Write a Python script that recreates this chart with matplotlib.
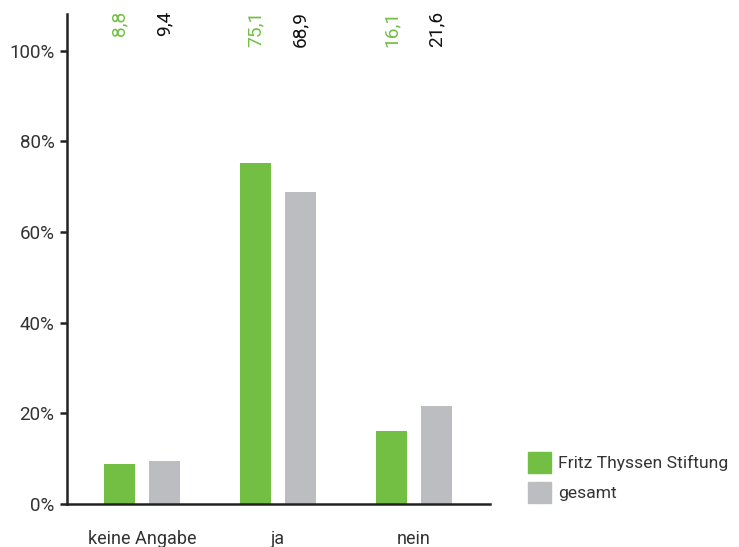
import numpy as np
import matplotlib.pyplot as plt
from matplotlib.patches import Patch

plt.rcParams['font.family'] = ['Roboto', 'DejaVu Sans']

categories = ['keine Angabe', 'ja', 'nein']
fts = [8.8, 75.1, 16.1]
gesamt = [9.4, 68.9, 21.6]
series_names = ['Fritz Thyssen Stiftung', 'gesamt']

green = '#72bf44'
grey = '#bcbdc0'
dark = '#222222'

fig = plt.figure(figsize=(7.39, 5.47), dpi=100)
ax = fig.add_axes([0.0907, 0.0786, 0.5724, 0.8954])

x = np.arange(len(categories))
off = 0.165
w = 0.228
ax.bar(x - off, fts, w, color=green)
ax.bar(x + off, gesamt, w, color=grey)

# values written along the top edge, rotated
for xi, a, b in zip(x, fts, gesamt):
    ax.text(xi - off, 108.8, f'{a:.1f}'.replace('.', ','), rotation=90,
            ha='center', va='top', color=green, fontsize=13.8)
    ax.text(xi + off, 108.8, f'{b:.1f}'.replace('.', ','), rotation=90,
            ha='center', va='top', color='#111111', fontsize=13.8)

ax.set_xlim(-0.551, 2.559)
ax.set_ylim(0, 108)
ax.set_yticks([0, 20, 40, 60, 80, 100])
ax.set_yticklabels([f'{v}%' for v in [0, 20, 40, 60, 80, 100]])
ax.set_xticks(x)
ax.set_xticklabels(categories)

for s in ['top', 'right']:
    ax.spines[s].set_visible(False)
for s in ['left', 'bottom']:
    ax.spines[s].set_linewidth(1.8)
    ax.spines[s].set_color(dark)

ax.tick_params(axis='y', length=5, width=1.8, color=dark, labelsize=13.5,
               labelcolor='#333333', pad=4)
ax.tick_params(axis='x', length=0, labelsize=13, labelcolor='#333333', pad=19)

handles = [Patch(color=green), Patch(color=grey)]
fig.legend(handles, series_names, loc='lower left',
           bbox_to_anchor=(0.698, 0.058), frameon=False, fontsize=12.6,
           handlelength=1.3, handleheight=1.45, handletextpad=0.4,
           labelspacing=0.55, labelcolor='#333333', borderaxespad=0.3)

fig.savefig('out.png', dpi=100)
